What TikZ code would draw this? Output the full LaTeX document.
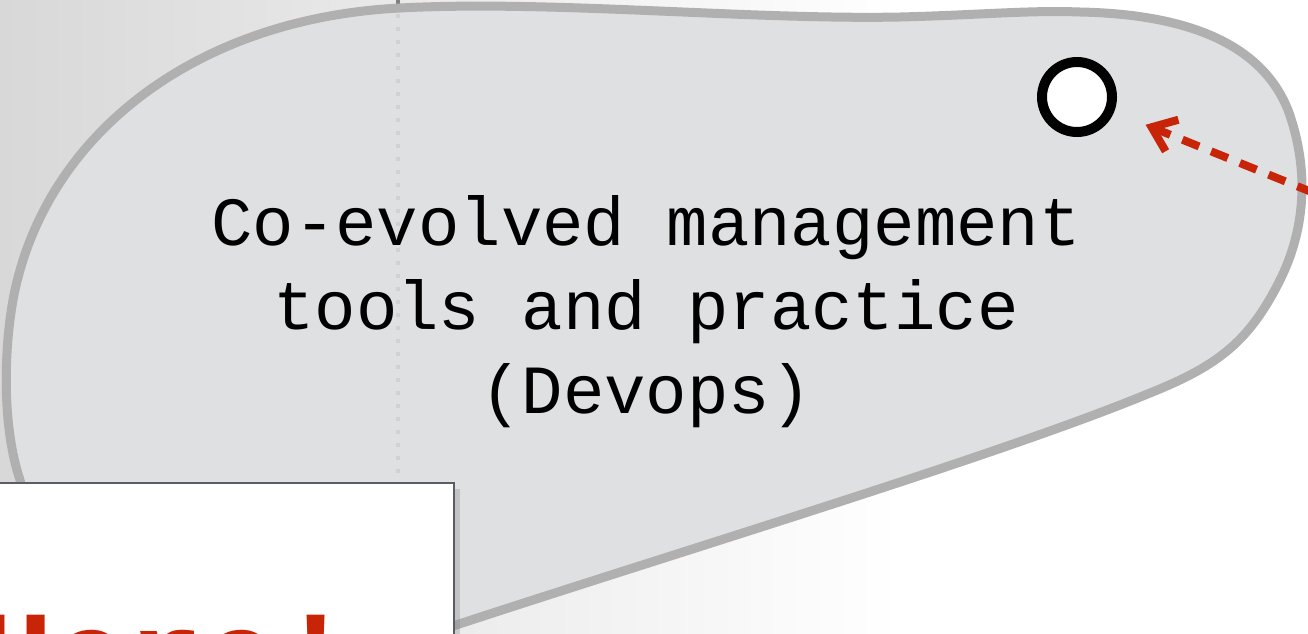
\documentclass[tikz,border=0pt]{standalone}
\usepackage{fontspec}
\setmonofont{Liberation Mono}
\usetikzlibrary{arrows.meta,shadows}
\definecolor{bgleft}{RGB}{216,216,216}
\definecolor{blobfill}{RGB}{223,224,226}
\definecolor{blobline}{RGB}{176,176,176}
\definecolor{herered}{RGB}{200,36,8}
\definecolor{boxline}{RGB}{90,94,100}
\tikzset{
  note/.style={font=\fontsize{34.5}{42}\selectfont\ttfamily, align=center, text=black, inner sep=0pt},
  hole/.style={circle, draw=black, fill=white, line width=5pt, minimum size=35pt, inner sep=0pt},
  heretext/.style={font=\fontsize{62.5}{70}\selectfont\ttfamily\bfseries, text=herered, inner sep=0pt},
  pointer/.style={herered, line width=4pt, dash pattern=on 9pt off 6.5pt,
    -{Straight Barb[length=11pt,width=17pt]}, shorten >=17pt},
}
\begin{document}
\begin{tikzpicture}[x=0.5pt,y=-0.5pt]
  \useasboundingbox (0,0) rectangle (1308,633);
  \clip (0,0) rectangle (1308,633);
  % background
  \fill[white] (0,0) rectangle (1308,633);
  \shade[left color=bgleft, right color=white] (0,0) rectangle (900,633);
  \draw[gray, line width=2pt] (398,0) -- (398,5);
  % the blob
  \draw[blobline, line width=4.5pt, fill=blobfill]
    (400,8) .. controls (550,0) and (750,20) .. (900,17)
    .. controls (980,15) and (1030,10) .. (1080,12)
    .. controls (1180,14) and (1260,40) .. (1288,110)
    .. controls (1310,170) and (1305,230) .. (1280,280)
    .. controls (1250,340) and (1220,365) .. (1150,393)
    .. controls (1000,455) and (700,545) .. (453,626)
    .. controls (350,660) and (250,690) .. (150,720)
    .. controls (70,640) and (40,560) .. (20,480)
    .. controls (0,420) and (5,336) .. (15,290)
    .. controls (50,130) and (200,18) .. (400,8) -- cycle;
  \draw[black!18, line width=2pt, dash pattern=on 2pt off 4.5pt] (398,14) -- (398,482);
  \node[hole] (dot) at (1077,97) {};
  \node[note] (idea) at (646,312) {Co-evolved management\\tools and practice\\(Devops)};
  % box in front
  \path[fill=white, draw=boxline, line width=1pt,
    drop shadow={shadow xshift=3pt, shadow yshift=-3pt, opacity=0.3}] (-20,483) rectangle (454,720);
  \node[heretext, anchor=base west] (here) at (-22,697) {Here!};
  \coordinate (src) at (1314,193);
  \draw[pointer] (src) -- (dot);
\end{tikzpicture}
\end{document}
